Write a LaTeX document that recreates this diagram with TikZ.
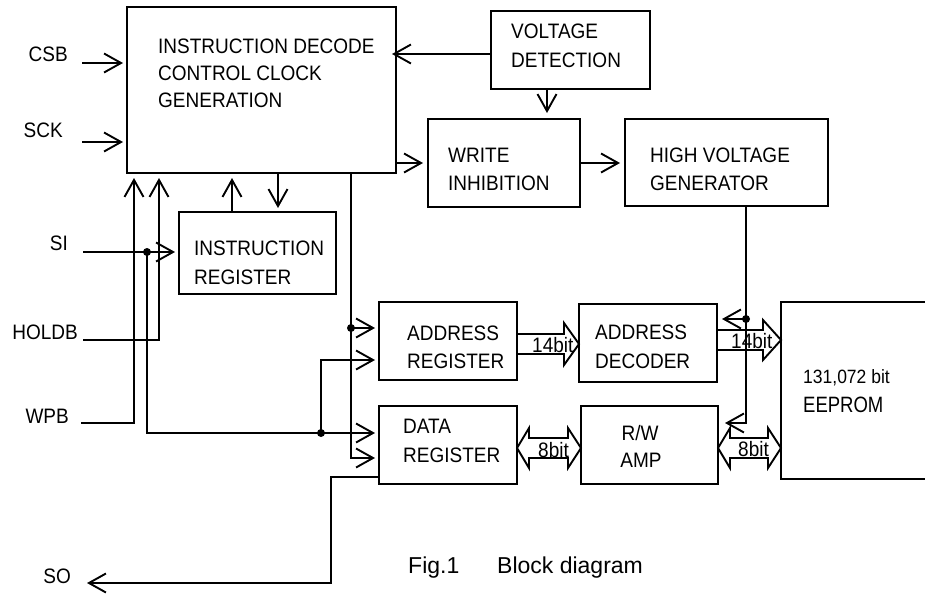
\documentclass[tikz,border=0pt]{standalone}
\usepackage{fontspec}
\setmainfont{Liberation Sans}
\usetikzlibrary{arrows.meta}
\newcommand\vst[1]{\scalebox{1}[1.1]{#1}}
\begin{document}
\begin{tikzpicture}[x=1pt,y=-1pt,
  box/.style={draw, line width=1.9pt, inner sep=0pt, outer sep=0pt},
  arr/.style={line width=1.9pt, -{Straight Barb[length=17pt,width=19pt]}},
  bus/.style={line width=1.9pt, line join=miter},
  txt/.style={inner sep=0pt, anchor=base west, font=\fontsize{19pt}{23pt}\selectfont},
  lbl/.style={inner sep=0pt, anchor=base east, font=\fontsize{19pt}{23pt}\selectfont},
  captxt/.style={inner sep=0pt, anchor=base west, font=\fontsize{23pt}{27pt}\selectfont},
  dot/.style={circle, fill, inner sep=0pt, minimum size=8pt}]
\useasboundingbox (0,0) rectangle (925,595);
\clip (0,0) rectangle (925,595);
% boxes
\node[box, minimum width=269pt, minimum height=166pt] (main) at (261.5,90) {};
\node[box, minimum width=159pt, minimum height=78pt] (vd) at (570.5,50) {};
\node[box, minimum width=152pt, minimum height=88pt] (wi) at (504,163) {};
\node[box, minimum width=203pt, minimum height=87pt] (hvg) at (726.5,162.5) {};
\node[box, minimum width=157pt, minimum height=82pt] (ir) at (257.5,253) {};
\node[box, minimum width=138pt, minimum height=78pt] (ar) at (448,341) {};
\node[box, minimum width=138pt, minimum height=78pt] (ad) at (648,343) {};
\node[box, minimum width=138pt, minimum height=78pt] (dr) at (448,445) {};
\node[box, minimum width=137pt, minimum height=78pt] (rw) at (649.5,445) {};
\node[box, minimum width=179pt, minimum height=177pt] (ee) at (870.5,390.5) {};
% box texts
\node[txt] (tm1) at (158,53) {\vst{INSTRUCTION DECODE}};
\node[txt] (tm2) at (158,80) {\vst{CONTROL CLOCK}};
\node[txt] (tm3) at (158,107) {\vst{GENERATION}};
\node[txt] (tv1) at (511,38) {\vst{VOLTAGE}};
\node[txt] (tv2) at (511,67) {\vst{DETECTION}};
\node[txt] (tw1) at (448,162) {\vst{WRITE}};
\node[txt] (tw2) at (448,190) {\vst{INHIBITION}};
\node[txt] (th1) at (650,162) {\vst{HIGH VOLTAGE}};
\node[txt] (th2) at (650,190) {\vst{GENERATOR}};
\node[txt] (ti1) at (194,255) {\vst{INSTRUCTION}};
\node[txt] (ti2) at (194,284) {\vst{REGISTER}};
\node[txt] (ta1) at (407,340) {\vst{ADDRESS}};
\node[txt] (ta2) at (407,368) {\vst{REGISTER}};
\node[txt] (td1) at (595,339) {\vst{ADDRESS}};
\node[txt] (td2) at (595,368) {\vst{DECODER}};
\node[txt] (tr1) at (403,433) {\vst{DATA}};
\node[txt] (tr2) at (403,462) {\vst{REGISTER}};
\node[txt, anchor=base] (tp1) at (640,440) {\vst{R/W}};
\node[txt, anchor=base] (tp2) at (641,467) {\vst{AMP}};
\node[txt, font=\fontsize{17.5pt}{21pt}\selectfont] (te1) at (803,383) {\vst{131,072 bit}};
\node[txt, font=\fontsize{18.5pt}{22pt}\selectfont] (te2) at (803,412) {\scalebox{1}[1.2]{EEPROM}};
% pin labels
\node[lbl] (csb) at (68,61) {\vst{CSB}};
\node[lbl] (sck) at (63,137) {\vst{SCK}};
\node[lbl] (si) at (68,250) {\vst{SI}};
\node[lbl] (holdb) at (78,339) {\vst{HOLDB}};
\node[lbl] (wpb) at (69,423) {\vst{WPB}};
\node[lbl] (so) at (71,583) {\vst{SO}};
% caption
\node[captxt] (fig) at (408,573) {Fig.1};
\node[captxt] (blk) at (497,573) {Block diagram};
% inputs
\coordinate (csbS) at (82,63);
\coordinate (sckS) at (82,142);
\coordinate (siS) at (83,252);
\coordinate (hS) at (83,340);
\coordinate (wS) at (81,423);
\coordinate (soE) at (87,583);
\draw[arr, shorten >=4pt] (csbS) -- (main.west |- csbS);
\draw[arr, shorten >=4pt] (sckS) -- (main.west |- sckS);
\draw[arr, shorten >=-4pt] (vd.west |- 0,54) -- (main.east |- 0,54);
\draw[arr, shorten >=6pt] (vd.south -| 547,0) -- (wi.north -| 547,0);
\draw[arr, shorten >=5pt] (main.east |- 0,163) -- (wi.west |- 0,163);
\draw[arr, shorten >=5pt] (wi.east |- 0,163) -- (hvg.west |- 0,163);
\draw[arr, shorten >=5pt] (ir.north -| 232,0) -- (main.south -| 232,0);
\draw[arr, shorten >=4pt] (main.south -| 278,0) -- (ir.north -| 278,0);
\draw[arr, shorten >=4pt] (siS) -- (ir.west |- siS);
\node[dot] (d1) at (147,252) {};
\draw[arr, shorten >=5pt] (hS) -| (main.south -| 159,0);
\draw[arr, shorten >=5pt] (wS) -| (main.south -| 134,0);
\draw[arr, shorten >=4pt] (d1.center) |- (dr.west |- 0,433);
\node[dot] (d2) at (321,433) {};
\draw[arr, shorten >=4pt] (d2.center) |- (ar.west |- 0,360);
\draw[arr, shorten >=4pt] (main.south -| 351,0) |- (dr.west |- 0,458);
\node[dot] (d3) at (351,328) {};
\draw[arr, shorten >=4pt] (d3.center) -- (ar.west |- d3);
\draw[arr] (dr.west |- 0,477) -- (331,477) |- (soE);
\draw[arr, shorten >=7pt] (hvg.south -| 746,0) |- (rw.east |- 0,423);
\node[dot] (d4) at (746,319) {};
\draw[arr, shorten >=5pt] (d4.center) -- (ad.east |- d4);
% buses
\draw[bus] (ar.east |- 0,334) -- (564,334) -- (564,323) -- (ad.west |- 0,344) -- (564,365) -- (564,354) -- (ar.east |- 0,354);
\node[txt] (b14a) at (532,352) {\vst{14bit}};
\draw[bus] (ad.east |- 0,330) -- (763,330) -- (763,320) -- (ee.west |- 0,340) -- (763,360) -- (763,350) -- (ad.east |- 0,350);
\node[txt] (b14b) at (731,348) {\vst{14bit}};
\draw[bus] (dr.east |- 0,448) -- (529,428) -- (529,438) -- (568,438) -- (568,428) -- (rw.west |- 0,448) -- (568,468) -- (568,458) -- (529,458) -- (529,468) -- cycle;
\node[txt] (b8a) at (538,457) {\vst{8bit}};
\draw[bus] (rw.east |- 0,448) -- (730,428) -- (730,438) -- (768,438) -- (768,428) -- (ee.west |- 0,448) -- (768,468) -- (768,458) -- (730,458) -- (730,468) -- cycle;
\node[txt] (b8b) at (738,456) {\vst{8bit}};
\end{tikzpicture}
\end{document}
